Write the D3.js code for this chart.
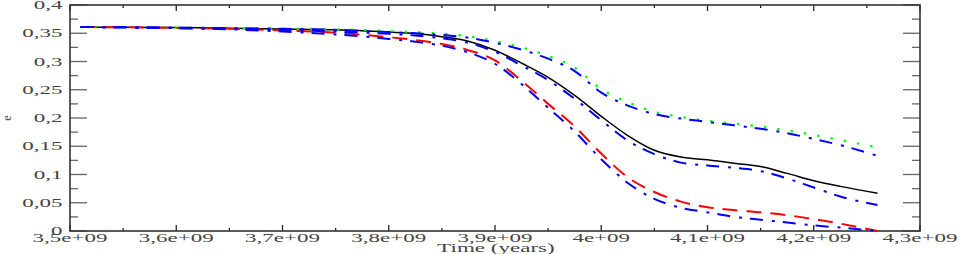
<!DOCTYPE html>
<html><head><meta charset="utf-8">
<script src="https://cdn.jsdelivr.net/npm/d3@7"></script>
<style>body{margin:0;background:#fff}svg{display:block}</style>
</head><body>
<svg id="c" width="961" height="254"></svg>
<script>
const time = [3.51e9,3.55e9,3.6e9,3.65e9,3.7e9,3.75e9,3.8e9,3.825e9,3.85e9,3.875e9,3.9e9,3.925e9,3.95e9,3.975e9,4.0e9,4.025e9,4.05e9,4.075e9,4.1e9,4.125e9,4.15e9,4.175e9,4.2e9,4.225e9,4.26e9];
const blackSolid = [0.361,0.3605,0.36,0.359,0.3575,0.356,0.352,0.3495,0.344,0.336,0.320,0.297,0.272,0.240,0.203,0.169,0.143,0.131,0.126,0.120,0.114,0.102,0.089,0.079,0.067];
const greenDotted = [0.361,0.3605,0.36,0.359,0.358,0.357,0.354,0.352,0.3495,0.3445,0.336,0.325,0.310,0.289,0.251,0.228,0.211,0.202,0.195,0.190,0.185,0.178,0.170,0.161,0.148];
const blueGreen = [0.361,0.3605,0.36,0.359,0.358,0.356,0.352,0.350,0.347,0.342,0.333,0.321,0.305,0.283,0.245,0.222,0.207,0.199,0.193,0.187,0.181,0.173,0.163,0.152,0.133];
const blueBlack = [0.361,0.3605,0.359,0.358,0.356,0.353,0.349,0.346,0.341,0.333,0.317,0.293,0.267,0.234,0.196,0.160,0.136,0.121,0.116,0.112,0.106,0.093,0.077,0.061,0.046];
const redDashed = [0.361,0.3605,0.3595,0.358,0.355,0.351,0.343,0.338,0.331,0.320,0.302,0.266,0.225,0.185,0.137,0.095,0.069,0.052,0.042,0.037,0.033,0.028,0.021,0.013,0.0];
const blueRed = [0.361,0.3605,0.359,0.357,0.353,0.348,0.340,0.335,0.328,0.316,0.296,0.260,0.218,0.176,0.127,0.085,0.057,0.041,0.033,0.025,0.020,0.015,0.010,0.006,0.0];
const xTicks = [3.5e9,3.6e9,3.7e9,3.8e9,3.9e9,4.0e9,4.1e9,4.2e9,4.3e9];
const xTickLabels = ["3,5e+09","3,6e+09","3,7e+09","3,8e+09","3,9e+09","4e+09","4,1e+09","4,2e+09","4,3e+09"];
const yTicks = [0,0.05,0.1,0.15,0.2,0.25,0.3,0.35,0.4];
const yTickLabels = ["0","0,05","0,1","0,15","0,2","0,25","0,3","0,35","0,4"];

const L=70,R=920,T=5,B=231, SX=1.92;
const svg=d3.select("#c");
const x=d3.scaleLinear().domain([3.5e9,4.3e9]).range([L,R]);
const y=d3.scaleLinear().domain([0,0.4]).range([B,T]);

// ticks
const tg=svg.append("g").attr("stroke","#666").attr("stroke-width",1.3);
yTicks.forEach((v,i)=>{
  tg.append("line").attr("x1",L).attr("x2",L+17).attr("y1",y(v)).attr("y2",y(v));
  tg.append("line").attr("x1",R).attr("x2",R-17).attr("y1",y(v)).attr("y2",y(v));
  if(i<yTicks.length-1){const m=v+0.025;
    tg.append("line").attr("x1",L).attr("x2",L+8).attr("y1",y(m)).attr("y2",y(m));
    tg.append("line").attr("x1",R).attr("x2",R-8).attr("y1",y(m)).attr("y2",y(m));}
});
const tg2=svg.append("g").attr("stroke","#222").attr("stroke-width",1.3);
xTicks.forEach((v,i)=>{
  tg2.append("line").attr("x1",x(v)).attr("x2",x(v)).attr("y1",B).attr("y2",B-6);
  tg2.append("line").attr("x1",x(v)).attr("x2",x(v)).attr("y1",T).attr("y2",T+6);
  if(i<xTicks.length-1){const m=v+0.5e8;
    tg2.append("line").attr("x1",x(m)).attr("x2",x(m)).attr("y1",B).attr("y2",B-3);
    tg2.append("line").attr("x1",x(m)).attr("x2",x(m)).attr("y1",T).attr("y2",T+3);}
});
svg.append("rect").attr("x",L).attr("y",T).attr("width",R-L).attr("height",B-T)
  .attr("fill","none").attr("stroke","#333").attr("stroke-width",1.6);

// labels
const font="Liberation Serif";
function label(tx,ty,str,anchor){
  const g=svg.append("g").attr("transform",`translate(${tx},${ty}) scale(${SX},1)`);
  g.append("text").attr("text-anchor",anchor).attr("font-family",font).attr("font-size",12).attr("fill","#444").text(str);
}
yTicks.forEach((v,i)=>label(62.5,y(v)+4,yTickLabels[i],"end"));
xTicks.forEach((v,i)=>label(x(v),241.5,xTickLabels[i],"middle"));
label(496,251.5,"Time (years)","middle");
svg.append("text").attr("transform","translate(11,118) rotate(-90)").attr("text-anchor","middle")
  .attr("font-family",font).attr("font-size",12).attr("fill","#444").text("e");

// series
const data=t=>time.map((tt,i)=>[tt,t[i]]);
const line=d3.line().x(d=>x(d[0])).y(d=>y(d[1])).curve(d3.curveMonotoneX);
const series=[
  {v:blackSolid,c:"#000",w:1.5,d:null},
  {v:greenDotted,c:"#00ff00",w:2.2,d:"2.5,11"},
  {v:redDashed,c:"#ff0000",w:2,d:"15,9"},
  {v:blueGreen,c:"#0000ff",w:2,d:"13,9,3,8"},
  {v:blueBlack,c:"#0000ff",w:2,d:"13,9,3,8"},
  {v:blueRed,c:"#0000ff",w:2,d:"13,9,3,8"}
];
series.forEach(s=>{
  svg.append("path").attr("d",line(data(s.v))).attr("fill","none").attr("stroke",s.c)
    .attr("stroke-width",s.w).attr("stroke-dasharray",s.d);
});
</script>
</body></html>
